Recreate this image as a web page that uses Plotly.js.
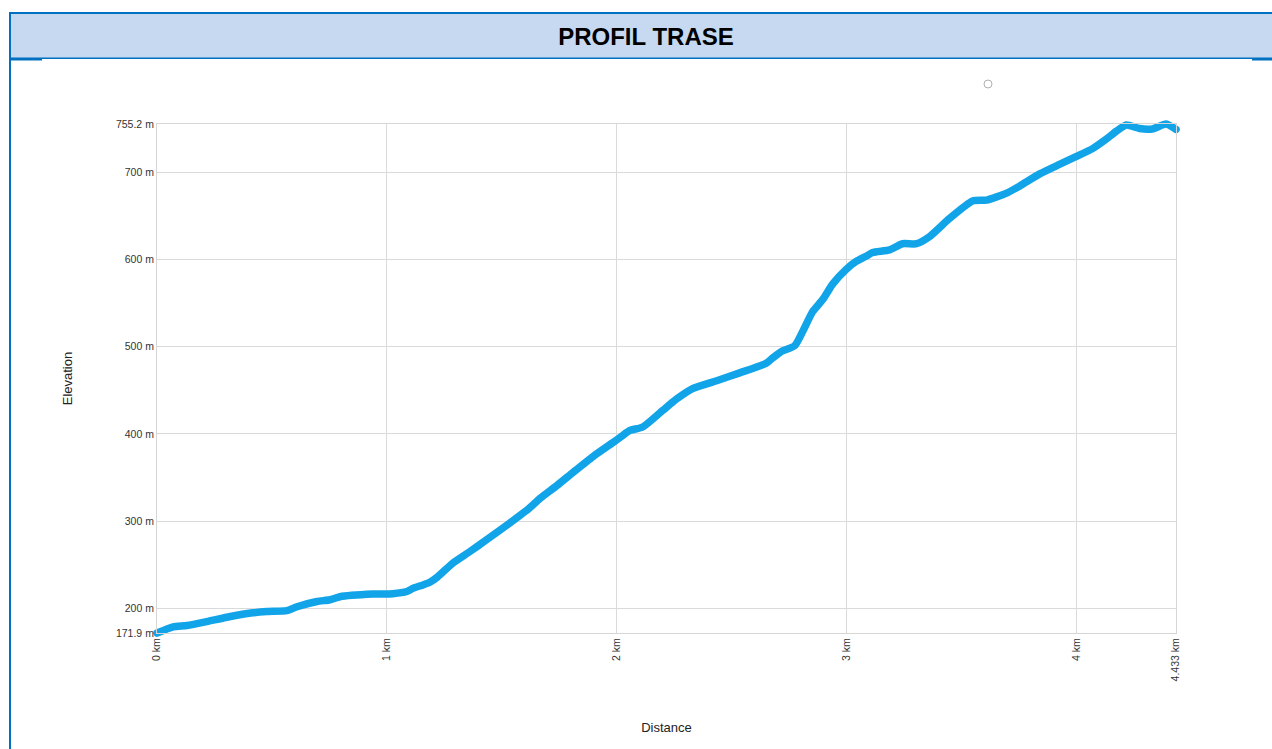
<!DOCTYPE html>
<html>
<head>
<meta charset="utf-8">
<script src="https://cdn.plot.ly/plotly-3.0.1.min.js"></script>
<style>
  html, body { margin: 0; padding: 0; background: #fff; overflow: hidden; }
  #chart { width: 1272px; height: 749px; }
  #chart .scatterlayer .js-line { stroke-linecap: round; stroke-linejoin: round; }
  /* let the thick profile line show its full stroke at the plot edges, as in the reference */
  #chart .cartesianlayer .plot,
  #chart .cartesianlayer .plot * { clip-path: none !important; }
</style>
</head>
<body>
<div id="chart"></div>
<script>
// ---- data ----
const distanceKm = [
  0, 0.07, 0.13, 0.217, 0.304, 0.417, 0.478, 0.565, 0.609, 0.696, 0.752, 0.796,
  0.939, 1.026, 1.087, 1.113, 1.157, 1.187, 1.22, 1.287, 1.36, 1.435, 1.535, 1.62,
  1.665, 1.74, 1.81, 1.896, 1.983, 2.02, 2.057, 2.113, 2.2, 2.26, 2.33, 2.435,
  2.535, 2.65, 2.678, 2.72, 2.774, 2.81, 2.852, 2.896, 2.94, 3.0, 3.043, 3.087,
  3.113, 3.187, 3.243, 3.304, 3.36, 3.448, 3.548, 3.609, 3.696, 3.752, 3.84,
  3.926, 4.0, 4.07, 4.13, 4.174, 4.217, 4.274, 4.33, 4.39, 4.433
];
const elevationM = [
  171.9, 179, 180.5, 185, 190, 195, 196.5, 197.5, 202, 208, 210, 213.5,
  216.5, 217, 219.5, 223, 227, 230, 236, 252, 265, 279, 298, 315,
  326, 341, 356, 374, 390, 397, 404, 408, 427, 440, 452, 461,
  470, 481, 487, 495, 501, 518, 540, 554, 572, 589, 598, 604,
  608, 611, 618, 618, 626, 647, 667, 668, 676, 684, 698,
  709, 718, 727, 738, 747, 754, 750, 749.5, 755.2, 749
];
const xTickVals = [0, 1, 2, 3, 4, 4.433];
const xTickText = ['0 km', '1 km', '2 km', '3 km', '4 km', '4.433 km'];
const yTickVals = [171.9, 200, 300, 400, 500, 600, 700, 755.2];
const yTickText = ['171.9 m', '200 m', '300 m', '400 m', '500 m', '600 m', '700 m', '755.2 m'];
const chartTitle = 'PROFIL TRASE';
const xTitle = 'Distance';
const yTitle = 'Elevation';

// ---- layout geometry ----
const W = 1272, H = 749;
const M = { l: 157, r: 96, t: 124, b: 116 };
const PW = W - M.l - M.r, PH = H - M.t - M.b;
const px = v => (v - M.l) / PW;        // pixel x -> paper x
const py = v => (H - M.b - v) / PH;    // pixel y -> paper y

const frameBlue = '#0070c0';
const shapes = [
  { type: 'rect', xref: 'paper', yref: 'paper', x0: px(11), x1: px(1300), y0: py(58), y1: py(13),
    fillcolor: '#c6d9f0', line: { width: 0 }, layer: 'below' },
  { type: 'line', xref: 'paper', yref: 'paper', x0: px(9), x1: px(1300), y0: py(13), y1: py(13),
    line: { color: frameBlue, width: 2 } },
  { type: 'line', xref: 'paper', yref: 'paper', x0: px(10), x1: px(1300), y0: py(58.3), y1: py(58.3),
    line: { color: frameBlue, width: 1.5 } },
  { type: 'line', xref: 'paper', yref: 'paper', x0: px(10), x1: px(42), y0: py(59.5), y1: py(59.5),
    line: { color: frameBlue, width: 2 } },
  { type: 'line', xref: 'paper', yref: 'paper', x0: px(1252), x1: px(1300), y0: py(59.5), y1: py(59.5),
    line: { color: frameBlue, width: 2 } },
  { type: 'line', xref: 'paper', yref: 'paper', x0: px(10), x1: px(10), y0: py(12), y1: py(760),
    line: { color: frameBlue, width: 2 } },
  { type: 'circle', xref: 'paper', yref: 'paper', x0: px(984), x1: px(992), y0: py(88), y1: py(80),
    line: { color: '#b0b0b0', width: 1 }, fillcolor: 'rgba(0,0,0,0)' }
];

const tickFont = { family: '"Liberation Sans", Arial, sans-serif', size: 10.5, color: '#333' };
const titleFont = { family: '"Liberation Sans", Arial, sans-serif', size: 13, color: '#222' };

const trace = {
  type: 'scatter',
  mode: 'lines',
  x: distanceKm,
  y: elevationM,
  line: { color: '#12a4e8', width: 7.5, shape: 'spline', smoothing: 0.6 },
  hoverinfo: 'x+y',
  showlegend: false
};

const layout = {
  width: W, height: H,
  margin: M,
  paper_bgcolor: '#ffffff',
  plot_bgcolor: '#ffffff',
  title: {
    text: '<b>' + chartTitle + '</b>',
    xref: 'container', x: 646 / W, xanchor: 'center',
    yref: 'container', y: 1 - 37 / H, yanchor: 'middle',
    font: { family: '"Liberation Sans", Arial, sans-serif', size: 24, color: '#000' }
  },
  xaxis: {
    range: [0, 4.433],
    tickmode: 'array', tickvals: xTickVals, ticktext: xTickText,
    tickangle: -90,
    tickfont: tickFont,
    ticks: '',
    showgrid: true, gridcolor: '#dadada', gridwidth: 1,
    showline: true, linecolor: '#d6d6d6', linewidth: 1, mirror: true,
    zeroline: false, automargin: false,
    title: { text: xTitle, font: titleFont, standoff: 42 }
  },
  yaxis: {
    range: [171.9, 755.2],
    tickmode: 'array', tickvals: yTickVals, ticktext: yTickText,
    tickfont: tickFont,
    ticks: '',
    showgrid: true, gridcolor: '#dadada', gridwidth: 1,
    showline: true, linecolor: '#d6d6d6', linewidth: 1, mirror: true,
    zeroline: false, automargin: false,
    title: { text: yTitle, font: titleFont, standoff: 40 }
  },
  shapes: shapes
};

Plotly.newPlot('chart', [trace], layout, { displayModeBar: false, responsive: false }).then(function (gd) {
  gd.querySelectorAll('.cartesianlayer [clip-path]').forEach(function (el) {
    el.removeAttribute('clip-path');
  });
});
</script>
</body>
</html>
